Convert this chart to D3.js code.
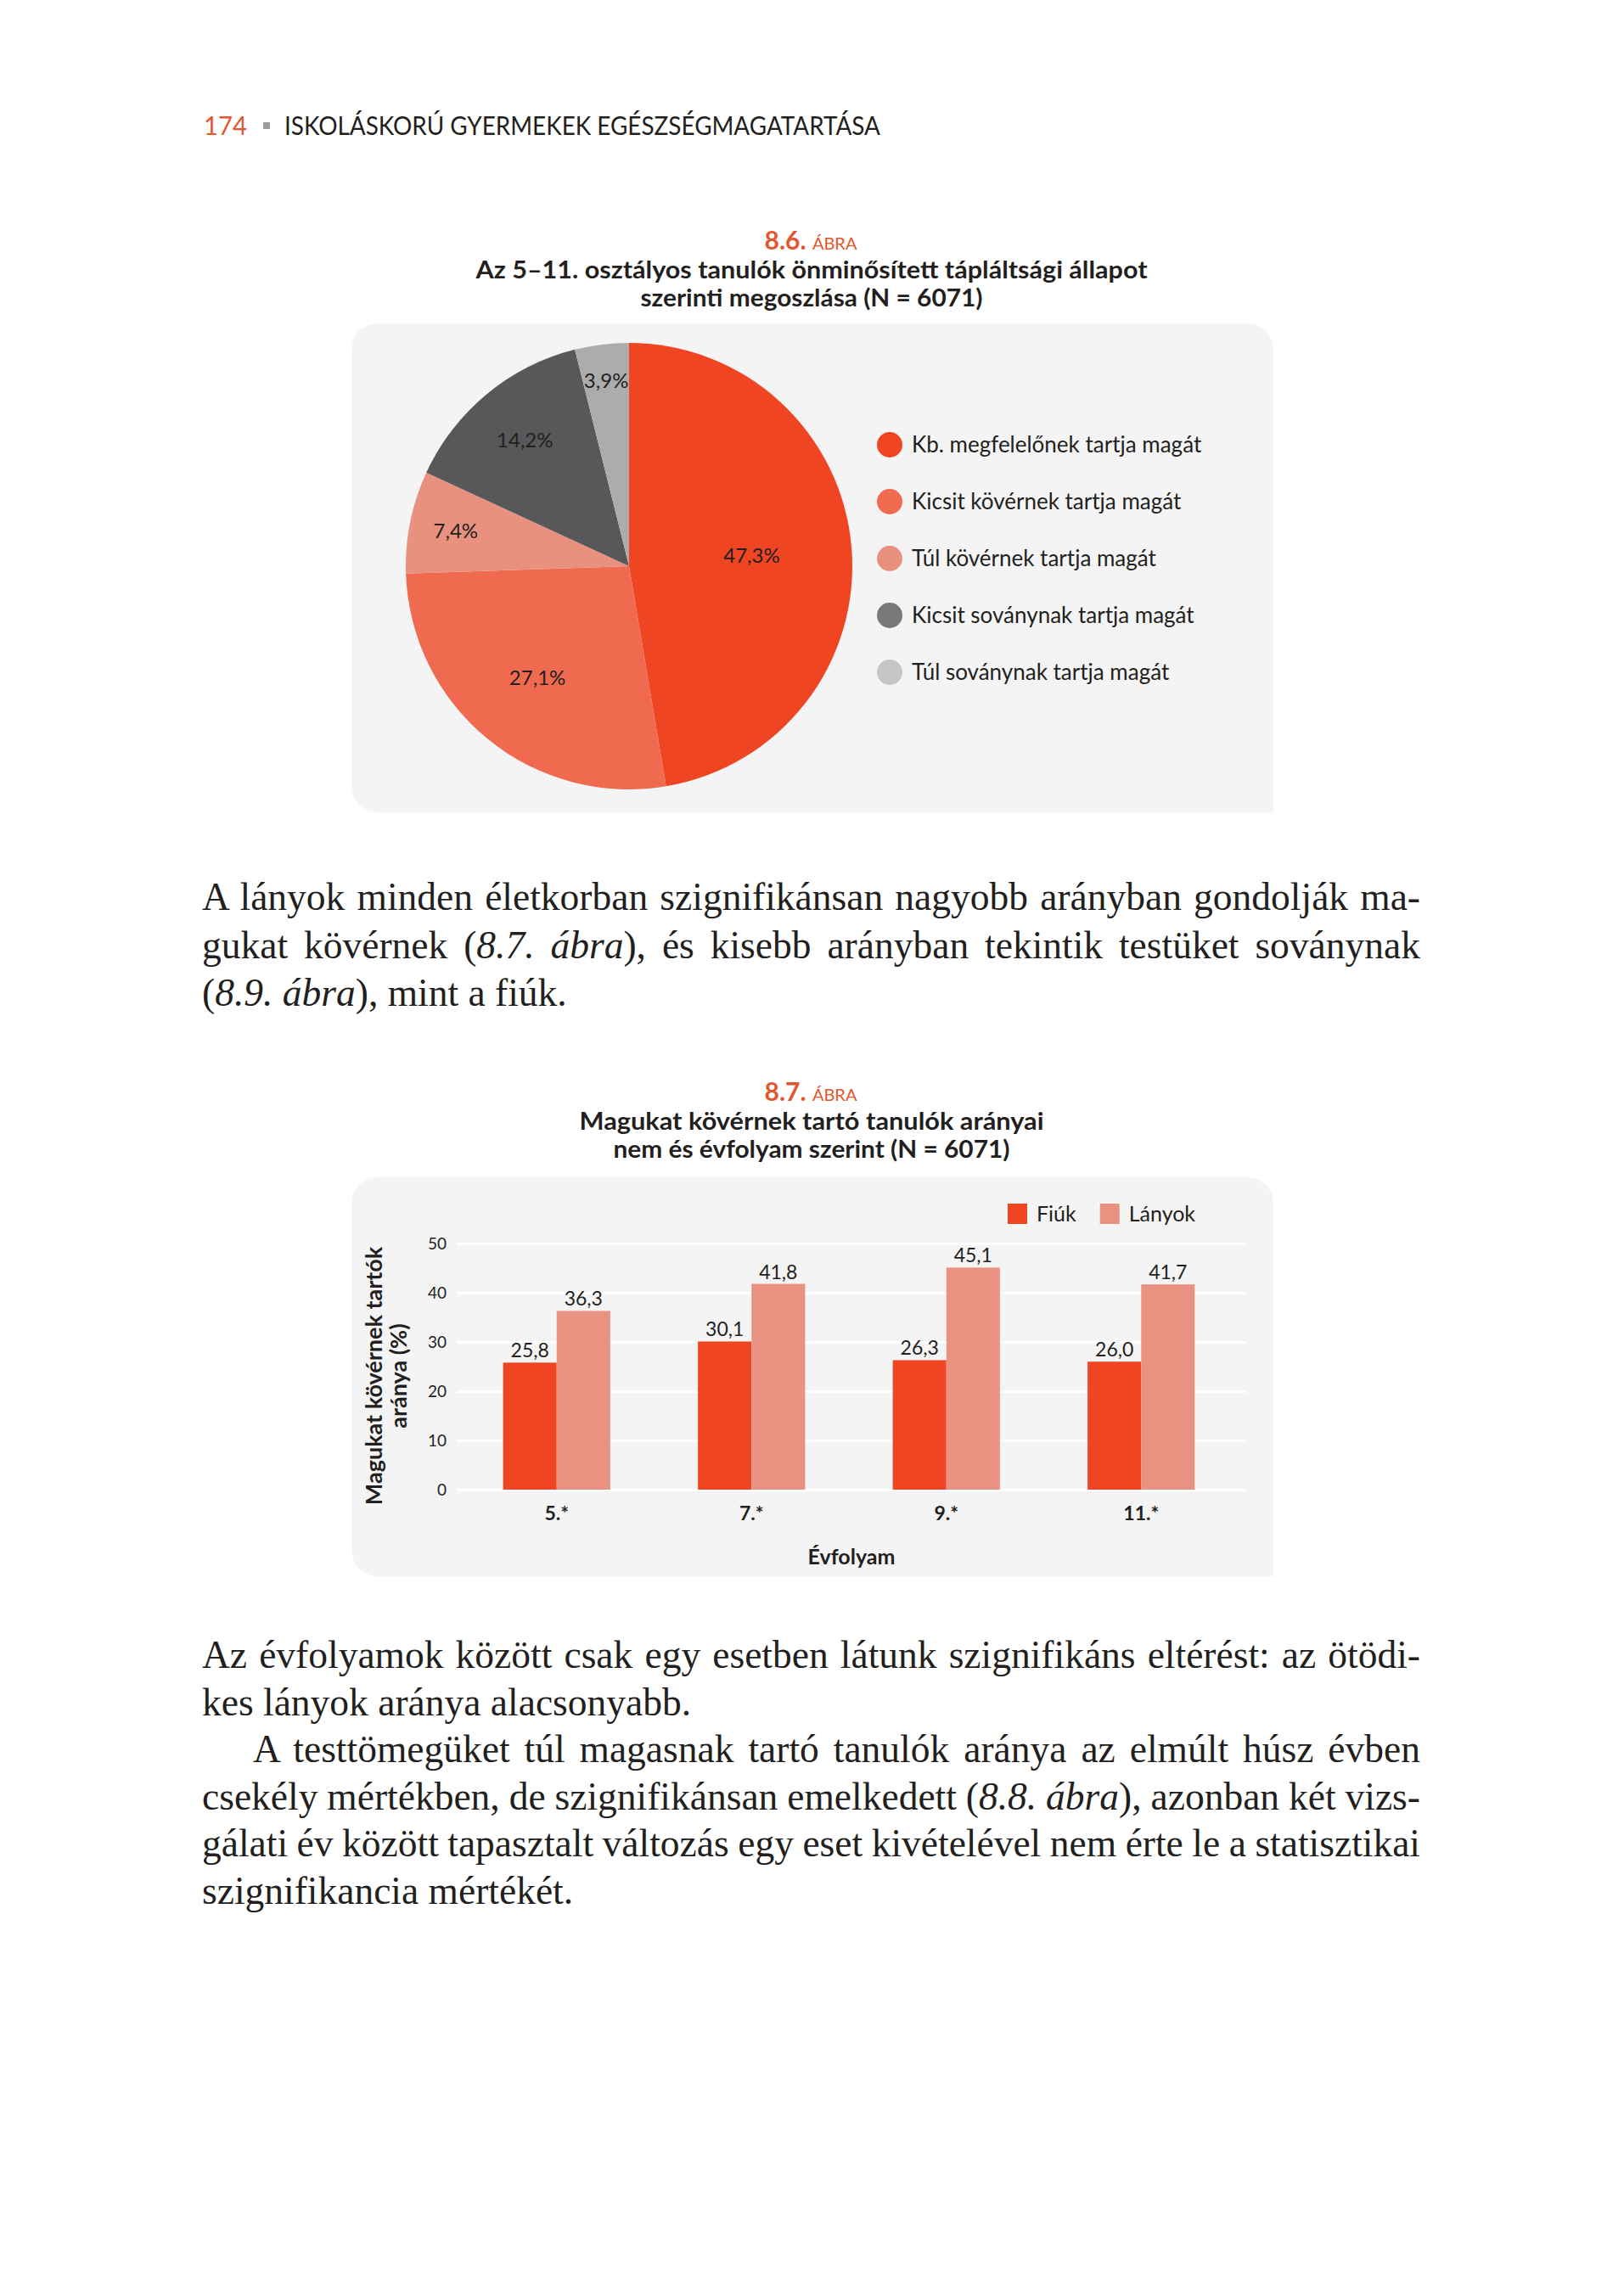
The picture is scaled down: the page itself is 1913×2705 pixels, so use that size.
<!DOCTYPE html>
<html>
<head>
<meta charset="utf-8">
<script src="https://cdn.jsdelivr.net/npm/d3@7"></script>
<style>
body { margin: 0; background: #fff; }
svg { display: block; }
</style>
</head>
<body>
<div id="page"></div>
<script>
// --- adatok ---
const pieLabels = ["Kb. megfelelőnek tartja magát", "Kicsit kövérnek tartja magát", "Túl kövérnek tartja magát", "Kicsit soványnak tartja magát", "Túl soványnak tartja magát"];
const pieValues = [47.3, 27.1, 7.4, 14.2, 3.9];
const pieColors = ["#ef4523", "#ef6a4f", "#e9917f", "#58585a", "#acacac"];
const legendColors = ["#ef4523", "#ef6a4f", "#e9917f", "#78787a", "#c6c6c4"];

const grades = ["5.*", "7.*", "9.*", "11.*"];
const seriesNames = ["Fiúk", "Lányok"];
const fiuk = [25.8, 30.1, 26.3, 26.0];
const lanyok = [36.3, 41.8, 45.1, 41.7];
const barColors = ["#ef4523", "#e99282"];
const yTicks = [0, 10, 20, 30, 40, 50];

// szöveg sorai: [szöveg, dőlt?]
const para1 = [
    {segs: [["A lányok minden életkorban szignifikánsan nagyobb arányban gondolják ma-", 0]], justify: true},
    {segs: [["gukat kövérnek (", 0], ["8.7. ábra", 1], ["), és kisebb arányban tekintik testüket soványnak", 0]], justify: true},
    {segs: [["(", 0], ["8.9. ábra", 1], ["), mint a fiúk.", 0]], justify: false}
];
const para2 = [
    {segs: [["Az évfolyamok között csak egy esetben látunk szignifikáns eltérést: az ötödi-", 0]], justify: true},
    {segs: [["kes lányok aránya alacsonyabb.", 0]], justify: false},
    {segs: [["A testtömegüket túl magasnak tartó tanulók aránya az elmúlt húsz évben", 0]], justify: true, indent: true},
    {segs: [["csekély mértékben, de szignifikánsan emelkedett (", 0], ["8.8. ábra", 1], ["), azonban két vizs-", 0]], justify: true},
    {segs: [["gálati év között tapasztalt változás egy eset kivételével nem érte le a statisztikai", 0]], justify: true},
    {segs: [["szignifikancia mértékét.", 0]], justify: false}
];

const W = 1913, H = 2705;
const orange = "#e2572f";
const ink = "#231f20";
const sans = "Lato, 'Open Sans', sans-serif";
const serif = "'Liberation Serif', 'DejaVu Serif', serif";
const hu = d3.formatLocale({decimal: ",", thousands: " ", grouping: [3], currency: ["", " Ft"]});
const fmt = hu.format(".1f");

const svg = d3.select("#page").append("svg")
    .attr("width", W).attr("height", H)
    .attr("viewBox", [0, 0, W, H]);
svg.append("rect").attr("width", W).attr("height", H).attr("fill", "#fff");

function fit(sel, w) {
    sel.attr("textLength", w).attr("lengthAdjust", "spacingAndGlyphs");
    return sel;
}

function panel(x0, y0, x1, y1) {
    const r = 35;
    svg.append("path")
        .attr("d", `M${x0 + r},${y0} H${x1 - r} Q${x1},${y0} ${x1},${y0 + r} V${y1} H${x0 + r} Q${x0},${y1} ${x0},${y1 - r} V${y0 + r} Q${x0},${y0} ${x0 + r},${y0} Z`)
        .attr("fill", "#f4f4f4");
}

function figTitle(num, y, lines, widths) {
    const t = svg.append("text").attr("x", 955).attr("y", y)
        .attr("text-anchor", "middle").attr("fill", orange).attr("font-family", sans);
    t.append("tspan").attr("font-size", 30).attr("font-weight", 700).text(num + " ");
    t.append("tspan").attr("font-size", 20).text("ÁBRA");
    lines.forEach((l, i) => {
        fit(svg.append("text").attr("x", 956).attr("y", y + 34 + i * 33)
            .attr("text-anchor", "middle").attr("font-family", sans)
            .attr("font-size", 28).attr("font-weight", 700).attr("fill", ink)
            .text(l), widths[i]);
    });
}

// --- fejléc ---
fit(svg.append("text").attr("x", 240).attr("y", 159).attr("font-family", sans)
    .attr("font-size", 30).attr("fill", orange).text("174"), 51);
svg.append("rect").attr("x", 310).attr("y", 144).attr("width", 8).attr("height", 8).attr("fill", "#9d9d9d");
fit(svg.append("text").attr("x", 335).attr("y", 159).attr("font-family", sans)
    .attr("font-size", 30).attr("fill", ink).text("ISKOLÁSKORÚ GYERMEKEK EGÉSZSÉGMAGATARTÁSA"), 702);

// --- 8.6. ábra: kördiagram ---
figTitle("8.6.", 294, ["Az 5–11. osztályos tanulók önminősített tápláltsági állapot", "szerinti megoszlása (N = 6071)"], [791, 403]);
panel(414, 381, 1500, 957);

const R = 263;
const pieG = svg.append("g").attr("transform", "translate(741,667)");
const pie = d3.pie().sort(null).value(d => d);
const arcs = pie(pieValues);
const arc = d3.arc().innerRadius(0).outerRadius(R);

pieG.selectAll("path")
    .data(arcs)
    .join("path")
    .attr("d", arc)
    .attr("fill", (d, i) => pieColors[i]);

// kisebb szeletek címkéi kijjebb kerülnek
pieG.selectAll("text")
    .data(arcs)
    .join("text")
    .attr("transform", d => {
        const r = R * (0.95 - 0.058 * Math.sqrt(d.data));
        const a = (d.startAngle + d.endAngle) / 2;
        return `translate(${r * Math.sin(a)},${-r * Math.cos(a)})`;
    })
    .attr("text-anchor", "middle")
    .attr("dy", "0.35em")
    .attr("font-family", sans)
    .attr("font-size", 24)
    .attr("fill", ink)
    .text(d => fmt(d.data) + "%");

const legY = d3.scalePoint().domain(pieLabels).range([524, 792]);
const leg = svg.append("g").selectAll("g")
    .data(pieLabels)
    .join("g")
    .attr("transform", d => `translate(1048,${legY(d)})`);
leg.append("circle").attr("r", 15).attr("fill", (d, i) => legendColors[i]);
leg.append("text").attr("x", 26).attr("dy", "0.35em")
    .attr("font-family", sans).attr("font-size", 26).attr("fill", ink)
    .text(d => d);

// --- bekezdések ---
const textLeft = 238, textRight = 1673;
function bodyLines(lines, y0, step) {
    const g = svg.append("g").attr("font-family", serif).attr("font-size", 45.5).attr("fill", ink);
    lines.forEach((l, i) => {
        const x = l.indent ? 298 : textLeft;
        const t = g.append("text").attr("x", x).attr("y", y0 + i * step);
        l.segs.forEach(s => t.append("tspan").attr("font-style", s[1] ? "italic" : null).text(s[0]));
        if (l.justify) {
            const natural = t.node().getComputedTextLength();
            const spaces = l.segs.map(s => s[0]).join("").split(" ").length - 1;
            t.attr("word-spacing", (textRight - x - natural) / spaces);
        }
    });
}
bodyLines(para1, 1072, 56.5);
bodyLines(para2, 1965, 55.6);

// --- 8.7. ábra: oszlopdiagram ---
figTitle("8.7.", 1297, ["Magukat kövérnek tartó tanulók arányai", "nem és évfolyam szerint (N = 6071)"], [547, 467]);
panel(414, 1387, 1500, 1857);

const gridX0 = 538, gridX1 = 1468;
const y = d3.scaleLinear().domain([0, 50]).range([1755, 1465]);
const x0 = d3.scaleBand().domain(grades).range([541, 1459]).paddingInner(0.45).paddingOuter(0.225);
const x1 = d3.scaleBand().domain(seriesNames).range([0, x0.bandwidth()]);

svg.append("g")
    .attr("transform", `translate(${gridX0},0)`)
    .call(d3.axisLeft(y).tickValues(yTicks).tickSize(-(gridX1 - gridX0)).tickPadding(12))
    .call(g => g.select(".domain").remove())
    .call(g => g.selectAll(".tick line").attr("stroke", "#fff").attr("stroke-width", 3))
    .call(g => g.selectAll(".tick text").attr("font-family", sans).attr("font-size", 19).attr("fill", ink));

const rows = grades.map((g, i) => ({grade: g, values: [fiuk[i], lanyok[i]]}));
const groups = svg.append("g").selectAll("g")
    .data(rows)
    .join("g")
    .attr("transform", d => `translate(${x0(d.grade)},0)`);

groups.selectAll("rect")
    .data(d => d.values.map((v, i) => ({key: seriesNames[i], v: v, i: i})))
    .join("rect")
    .attr("x", d => x1(d.key))
    .attr("y", d => y(d.v))
    .attr("width", x1.bandwidth())
    .attr("height", d => y(0) - y(d.v))
    .attr("fill", d => barColors[d.i]);

groups.selectAll("text")
    .data(d => d.values.map((v, i) => ({key: seriesNames[i], v: v})))
    .join("text")
    .attr("x", d => x1(d.key) + x1.bandwidth() / 2)
    .attr("y", d => y(d.v) - 6)
    .attr("text-anchor", "middle")
    .attr("font-family", sans).attr("font-size", 23).attr("fill", ink)
    .text(d => fmt(d.v));

svg.append("g")
    .attr("transform", `translate(0,${y(0)})`)
    .call(d3.axisBottom(x0).tickSize(0).tickPadding(20))
    .call(g => g.select(".domain").remove())
    .call(g => g.selectAll(".tick text").attr("font-family", sans).attr("font-size", 23)
        .attr("font-weight", 700).attr("fill", ink));

svg.append("text").attr("x", 1003).attr("y", 1843).attr("text-anchor", "middle")
    .attr("font-family", sans).attr("font-size", 25).attr("font-weight", 700).attr("fill", ink)
    .text("Évfolyam");

const yTitle = ["Magukat kövérnek tartók", "aránya (%)"];
yTitle.forEach((t, i) => {
    svg.append("text")
        .attr("transform", `translate(${450 + i * 29},1621) rotate(-90)`)
        .attr("text-anchor", "middle")
        .attr("font-family", sans).attr("font-size", 27).attr("font-weight", 700).attr("fill", ink)
        .text(t);
});

// jelmagyarázat
let lx = 1187;
seriesNames.forEach((s, i) => {
    svg.append("rect").attr("x", lx).attr("y", 1418).attr("width", 23).attr("height", 24).attr("fill", barColors[i]);
    const t = svg.append("text").attr("x", lx + 34).attr("y", 1439)
        .attr("font-family", sans).attr("font-size", 25).attr("fill", ink).text(s);
    lx = lx + 34 + t.node().getComputedTextLength() + 28;
});
</script>
</body>
</html>
